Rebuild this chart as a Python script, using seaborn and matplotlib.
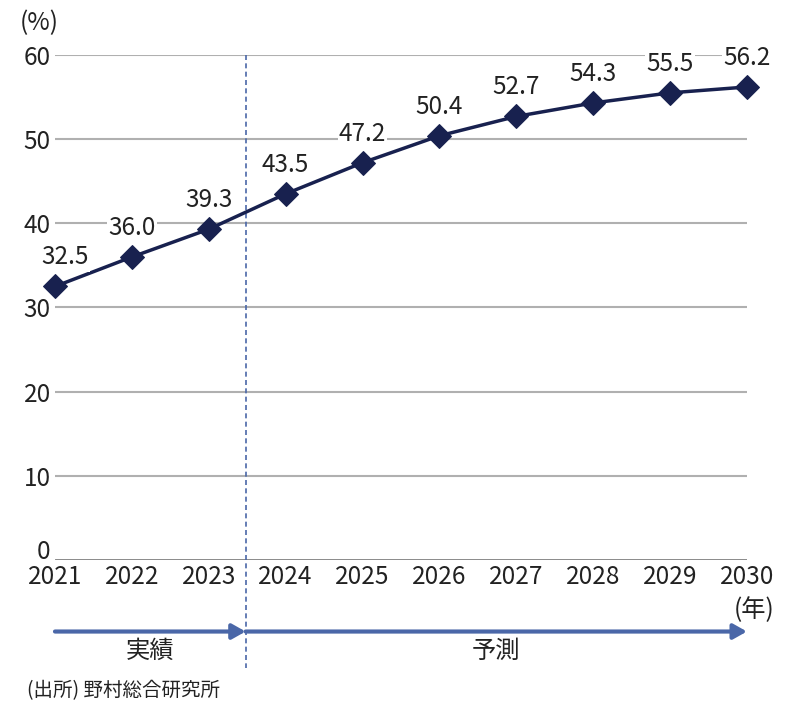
import matplotlib
matplotlib.use("Agg")
import matplotlib.pyplot as plt
import matplotlib.transforms as mtransforms
import seaborn as sns
import pandas as pd

years = [2021, 2022, 2023, 2024, 2025, 2026, 2027, 2028, 2029, 2030]
values = [32.5, 36.0, 39.3, 43.5, 47.2, 50.4, 52.7, 54.3, 55.5, 56.2]
y_ticks = [0, 10, 20, 30, 40, 50, 60]
actual_label = "実績"
forecast_label = "予測"
source_text = "(出所) 野村総合研究所"

sns.set_style("white")
plt.rcParams["font.family"] = ["Noto Sans CJK JP", "DejaVu Sans"]

LINE = "#18214f"
BLUE = "#4a67a8"
GRID = "#b0b0b0"
TXT = "#222222"
FS = 17.5

df = pd.DataFrame({"year": years, "value": values})

fig = plt.figure(figsize=(8.06, 7.16), dpi=100)
ax = fig.add_axes([0.0682, 0.2179, 0.8585, 0.7053])

for t in y_ticks[1:]:
    ax.axhline(t, color=GRID, lw=1.5, zorder=0)
ax.axhline(0, color="#808080", lw=2, zorder=1)

sns.lineplot(data=df, x="year", y="value", ax=ax, color=LINE, lw=2.5,
             marker="D", markersize=12, markeredgecolor=LINE, clip_on=False, zorder=3)

for i, (x, v) in enumerate(zip(years, values)):
    dx = 0.13 if i == 0 else 0
    ax.text(x + dx, v + 1.9, f"{v:.1f}", ha="center", va="bottom", fontsize=FS,
            color=TXT, zorder=4,
            bbox=dict(boxstyle="square,pad=0.05", fc="white", ec="none"))

ax.set_xlim(2021, 2030)
ax.set_ylim(0, 60)
ax.set_yticks(y_ticks)
ax.set_xticks(years)
ax.set_xticklabels([str(y) for y in years])
ax.tick_params(axis="both", length=0, labelsize=FS, colors=TXT)
ax.tick_params(axis="y", pad=3)
ax.tick_params(axis="x", pad=3)
ax.set_xlabel("")
ax.set_ylabel("")
for s in ax.spines.values():
    s.set_visible(False)

# lift the "0" label above the baseline so it clears the year labels
zero_lbl = ax.get_yticklabels()[0]
zero_lbl.set_transform(zero_lbl.get_transform() +
                       mtransforms.ScaledTranslation(0, 11 / 100, fig.dpi_scale_trans))

# divider between actual and forecast
ax.plot([2023.48, 2023.48], [60, -12.8], ls=(0, (3, 2)), color=BLUE, lw=1.2,
        clip_on=False, zorder=2)

# arrows
ya = -8.5
ax.annotate("", xy=(2023.48, ya), xytext=(2021, ya), annotation_clip=False,
            arrowprops=dict(arrowstyle="-|>,head_length=0.8,head_width=0.45",
                            color=BLUE, lw=3, shrinkA=0, shrinkB=0))
ax.annotate("", xy=(2030, ya), xytext=(2023.48, ya), annotation_clip=False,
            arrowprops=dict(arrowstyle="-|>,head_length=0.8,head_width=0.45",
                            color=BLUE, lw=3, shrinkA=0, shrinkB=0))
ax.text(2022.24, -10.8, actual_label, ha="center", va="center", fontsize=FS, color=TXT)
ax.text(2026.74, -10.8, forecast_label, ha="center", va="center", fontsize=FS, color=TXT)

fig.text(0.024, 0.968, "(%)", ha="left", va="center", fontsize=FS, color=TXT)
ax.text(2030.1, -6.0, "(年)", ha="center", va="center", fontsize=FS, color=TXT)
fig.text(0.034, 0.036, source_text, ha="left", va="center", fontsize=14, color=TXT)

fig.savefig("out.png", dpi=100)
